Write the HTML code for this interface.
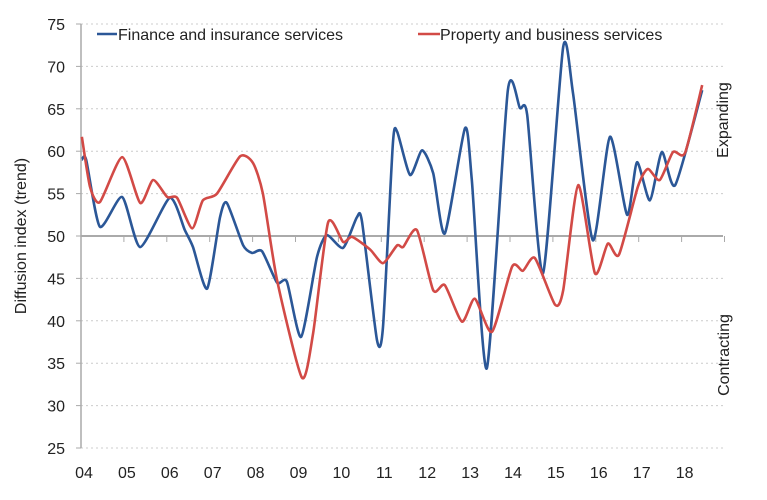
<!DOCTYPE html>
<html><head><meta charset="utf-8"><style>
body{margin:0;background:#fff;}
svg{display:block;font-family:"Liberation Sans",sans-serif;}
</style></head><body>
<svg id="chart" width="767" height="500"></svg>
<script>
const yTicks=[25,30,35,40,45,50,55,60,65,70,75];
const xLabels=["04","05","06","07","08","09","10","11","12","13","14","15","16","17","18"];
const financeYears=[2004.02,2004.12,2004.44,2004.96,2005.38,2006.07,2006.42,2006.61,2006.94,2007.24,2007.40,2007.78,2007.99,2008.22,2008.57,2008.80,2009.13,2009.50,2009.73,2010.11,2010.43,2010.55,2010.90,2011.04,2011.27,2011.37,2011.67,2011.95,2012.21,2012.48,2012.95,2013.11,2013.46,2013.95,2014.23,2014.40,2014.77,2015.24,2015.47,2015.93,2016.33,2016.73,2016.96,2017.26,2017.54,2017.85,2018.48];
const financeValues=[59,59,51.1,54.6,48.7,54.5,50.7,48.7,43.8,52.2,53.9,48.9,48,48.2,44.5,44.6,38.1,47.5,50.1,48.6,52.2,51.7,37.7,39.3,60.9,62.3,57.2,60.1,57.4,50.3,62.7,56.6,34.4,67.2,65.1,64.3,45.6,72.3,66.8,49.5,61.7,52.5,58.7,54.2,59.9,56,67.2];
const propertyYears=[2004.02,2004.21,2004.44,2004.96,2005.38,2005.68,2006.01,2006.24,2006.59,2006.84,2007.17,2007.71,2008.01,2008.24,2008.57,2009.15,2009.41,2009.76,2010.11,2010.32,2010.74,2011.04,2011.37,2011.51,2011.83,2012.21,2012.48,2012.88,2013.18,2013.58,2014.05,2014.30,2014.58,2015.05,2015.24,2015.59,2015.98,2016.28,2016.54,2016.98,2017.21,2017.49,2017.80,2018.08,2018.48];
const propertyValues=[61.7,55.8,54,59.3,53.9,56.6,54.6,54.5,50.9,54.2,55,59.4,58.6,55,44.8,33.3,38.5,51.6,49.3,49.9,48.4,46.8,48.9,48.7,50.7,43.6,44.2,39.9,42.6,38.7,46.4,45.9,47.4,41.9,43.6,56,45.6,49.1,47.8,55.8,57.9,56.6,59.9,59.8,67.8];

const NS="http://www.w3.org/2000/svg";
const svg=document.getElementById('chart');
const L=81,R=723,T=24,B=448;
const x=t=>L+(t-2004)*42.9;
const y=v=>B-(v-25)*(B-T)/50;
function mk(tag,attrs,parent){const e=document.createElementNS(NS,tag);for(const k in attrs)e.setAttribute(k,attrs[k]);(parent||svg).appendChild(e);return e;}

yTicks.forEach(v=>{
  const g=mk('line',{x1:L,x2:R,y1:y(v),y2:y(v),stroke:v===50?'#aaa':'#ccc','stroke-width':v===50?2:1,'stroke-dasharray':v===50?'':'2,3'});
  
  
  const tk=mk('line',{x1:L-5,x2:L,y1:y(v),y2:y(v),stroke:'#aaa'});
  
  
  const t=mk('text',{x:65,y:y(v)+6,'text-anchor':'end','font-size':16,fill:'#222'});
  t.textContent=v;
  
  
});
const ax=mk('line',{x1:L,x2:L,y1:T,y2:B,stroke:'#aaa','stroke-width':1.5});


xLabels.forEach((lab,i)=>{
  const tk=mk('line',{x1:x(2004+i),x2:x(2004+i),y1:y(50),y2:y(50)+6,stroke:'#aaa'});
  
  
  const t=mk('text',{x:x(2004+i)+3,y:478,'text-anchor':'middle','font-size':16,fill:'#222'});
  t.textContent=lab;
  
  
});
const tk2=mk('line',{x1:x(2019),x2:x(2019),y1:y(50),y2:y(50)+6,stroke:'#aaa'});



function smooth(xs,vs){
  const p=xs.map((t,i)=>[x(t),y(vs[i])]);
  let d='M'+p[0][0]+','+p[0][1];
  const k=9;
  for(let i=0;i<p.length-1;i++){
    const p0=p[i-1]||p[i],p1=p[i],p2=p[i+1],p3=p[i+2]||p2;
    const c1=[p1[0]+(p2[0]-p0[0])/k,p1[1]+(p2[1]-p0[1])/k];
    const c2=[p2[0]-(p3[0]-p1[0])/k,p2[1]-(p3[1]-p1[1])/k];
    d+=` C${c1[0]},${c1[1]} ${c2[0]},${c2[1]} ${p2[0]},${p2[1]}`;
  }
  return d;
}
const fin=mk('path',{d:smooth(financeYears,financeValues),fill:'none',stroke:'#2b5797','stroke-width':2.6,'stroke-linejoin':'round'});


const prop=mk('path',{d:smooth(propertyYears,propertyValues),fill:'none',stroke:'#d24a46','stroke-width':2.6,'stroke-linejoin':'round'});


</script>
<svg width="767" height="500" style="position:absolute;left:0;top:0">
  <g>
    <line x1="97" x2="117" y1="34" y2="34" stroke="#2b5797" stroke-width="2.6"/>
    <text x="118" y="40" font-size="16" fill="#222" font-family="Liberation Sans, sans-serif">Finance and insurance services</text>
  </g>
  <g>
    <line x1="418" x2="440" y1="34" y2="34" stroke="#d24a46" stroke-width="2.6"/>
    <text x="440" y="40" font-size="16" fill="#222" font-family="Liberation Sans, sans-serif">Property and business services</text>
  </g>
  <text transform="translate(26,236) rotate(-90)" text-anchor="middle" font-size="16" fill="#222" font-family="Liberation Sans, sans-serif">Diffusion index (trend)</text>
  <text transform="translate(728,120) rotate(-90)" text-anchor="middle" font-size="16" fill="#222" font-family="Liberation Sans, sans-serif">Expanding</text>
  <text transform="translate(729,355) rotate(-90)" text-anchor="middle" font-size="16" fill="#222" font-family="Liberation Sans, sans-serif">Contracting</text>
</svg>
</body></html>
